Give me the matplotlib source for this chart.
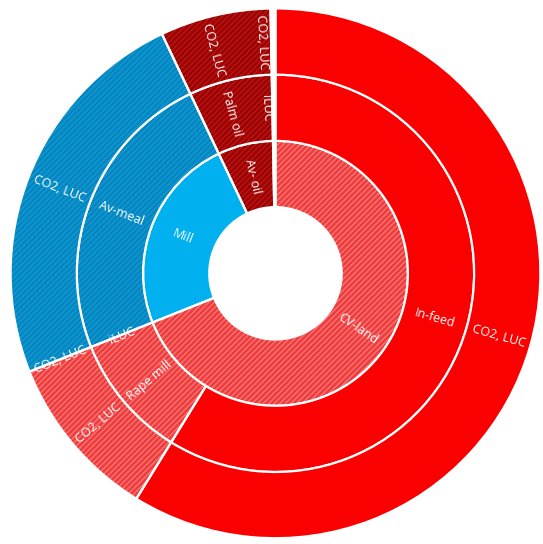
import itertools
import numpy as np
import matplotlib
matplotlib.use('Agg')
import matplotlib.pyplot as plt

plt.rcParams['font.family'] = ['Open Sans', 'DejaVu Sans']
plt.rcParams['hatch.linewidth'] = 1.0

# shares in percent of the whole circle, clockwise from 12 o'clock
inner_labels = ['CV-land', 'Mill', 'Av- oil', '']
inner_values = [68.95, 24.0, 6.75, 0.3]

mid_labels = ['In-feed', 'Rape mill', 'iLUC', 'Av-meal', 'Palm oil', 'iLUC', '']
mid_values = [58.8, 10.05, 0.1, 24.0, 5.55, 1.2, 0.3]

outer_labels = ['CO2, LUC', 'CO2, LUC', 'CO2, LUC', 'CO2, LUC', 'CO2, LUC', 'CO2, LUC', '']
outer_values = mid_values

# colour style per segment: (face, stripe colour or None)
RED = ('#fb0000', None)
RED_H = ('#ef3b3b', '#f87676')
BLUE = ('#00b0ef', None)
BLUE_H = ('#0b94cf', '#067fb6')
DRED_H = ('#9e0000', '#b41818')
GAP = ('#ffffff', None)

inner_style = [RED_H, BLUE, DRED_H, GAP]
mid_style = [RED, RED_H, RED_H, BLUE_H, DRED_H, DRED_H, GAP]
outer_style = [RED, RED_H, RED_H, BLUE_H, DRED_H, DRED_H, GAP]

fig, ax = plt.subplots(figsize=(5.43, 5.44), dpi=100)
fig.subplots_adjust(left=0, right=1, bottom=0, top=1)


def ring(values, labels, styles, r_out, width):
    # neighbours with the same look are drawn as one wedge (no seam / outline)
    groups = [(s, sum(v for v, _ in grp))
              for s, grp in itertools.groupby(zip(values, styles), key=lambda t: t[1])]
    g_styles = [g[0] for g in groups]
    g_values = [g[1] for g in groups]

    wedges, _ = ax.pie(g_values, radius=r_out, colors=[s[0] for s in g_styles],
                       startangle=90, counterclock=False,
                       wedgeprops=dict(width=width, linewidth=0))
    for w, s in zip(wedges, g_styles):
        if s[1] is not None:
            w.set_hatch('//////')
            w.set_edgecolor(s[1])
            w.set_linewidth(0)

    ax.pie(g_values, radius=r_out, colors=['none'] * len(g_values), startangle=90,
           counterclock=False,
           wedgeprops=dict(width=width, linewidth=1.6, edgecolor='white',
                           fill=False))

    total = sum(values)
    start = 0.0
    r_mid = r_out - width / 2
    for v, lab in zip(values, labels):
        theta = (start + v / 2) / total * 360.0   # clockwise from top
        start += v
        if not lab:
            continue
        phi = np.deg2rad(90 - theta)
        x, y = r_mid * np.cos(phi), r_mid * np.sin(phi)
        rot = (90 - theta) % 360
        if 90 < rot < 270:
            rot -= 180
        if rot >= 270:
            rot -= 360
        ax.text(x, y, lab, rotation=rot, rotation_mode='anchor',
                ha='center', va='center', color='white', fontsize=9)


ring(inner_values, inner_labels, inner_style, 0.5, 0.25)
ring(mid_values, mid_labels, mid_style, 0.75, 0.25)
ring(outer_values, outer_labels, outer_style, 1.0, 0.25)

ax.set_xlim(-1.04, 1.01)
ax.set_ylim(-1.02, 1.03)
ax.set_aspect('equal')
ax.axis('off')

plt.savefig('out.png', dpi=100)
